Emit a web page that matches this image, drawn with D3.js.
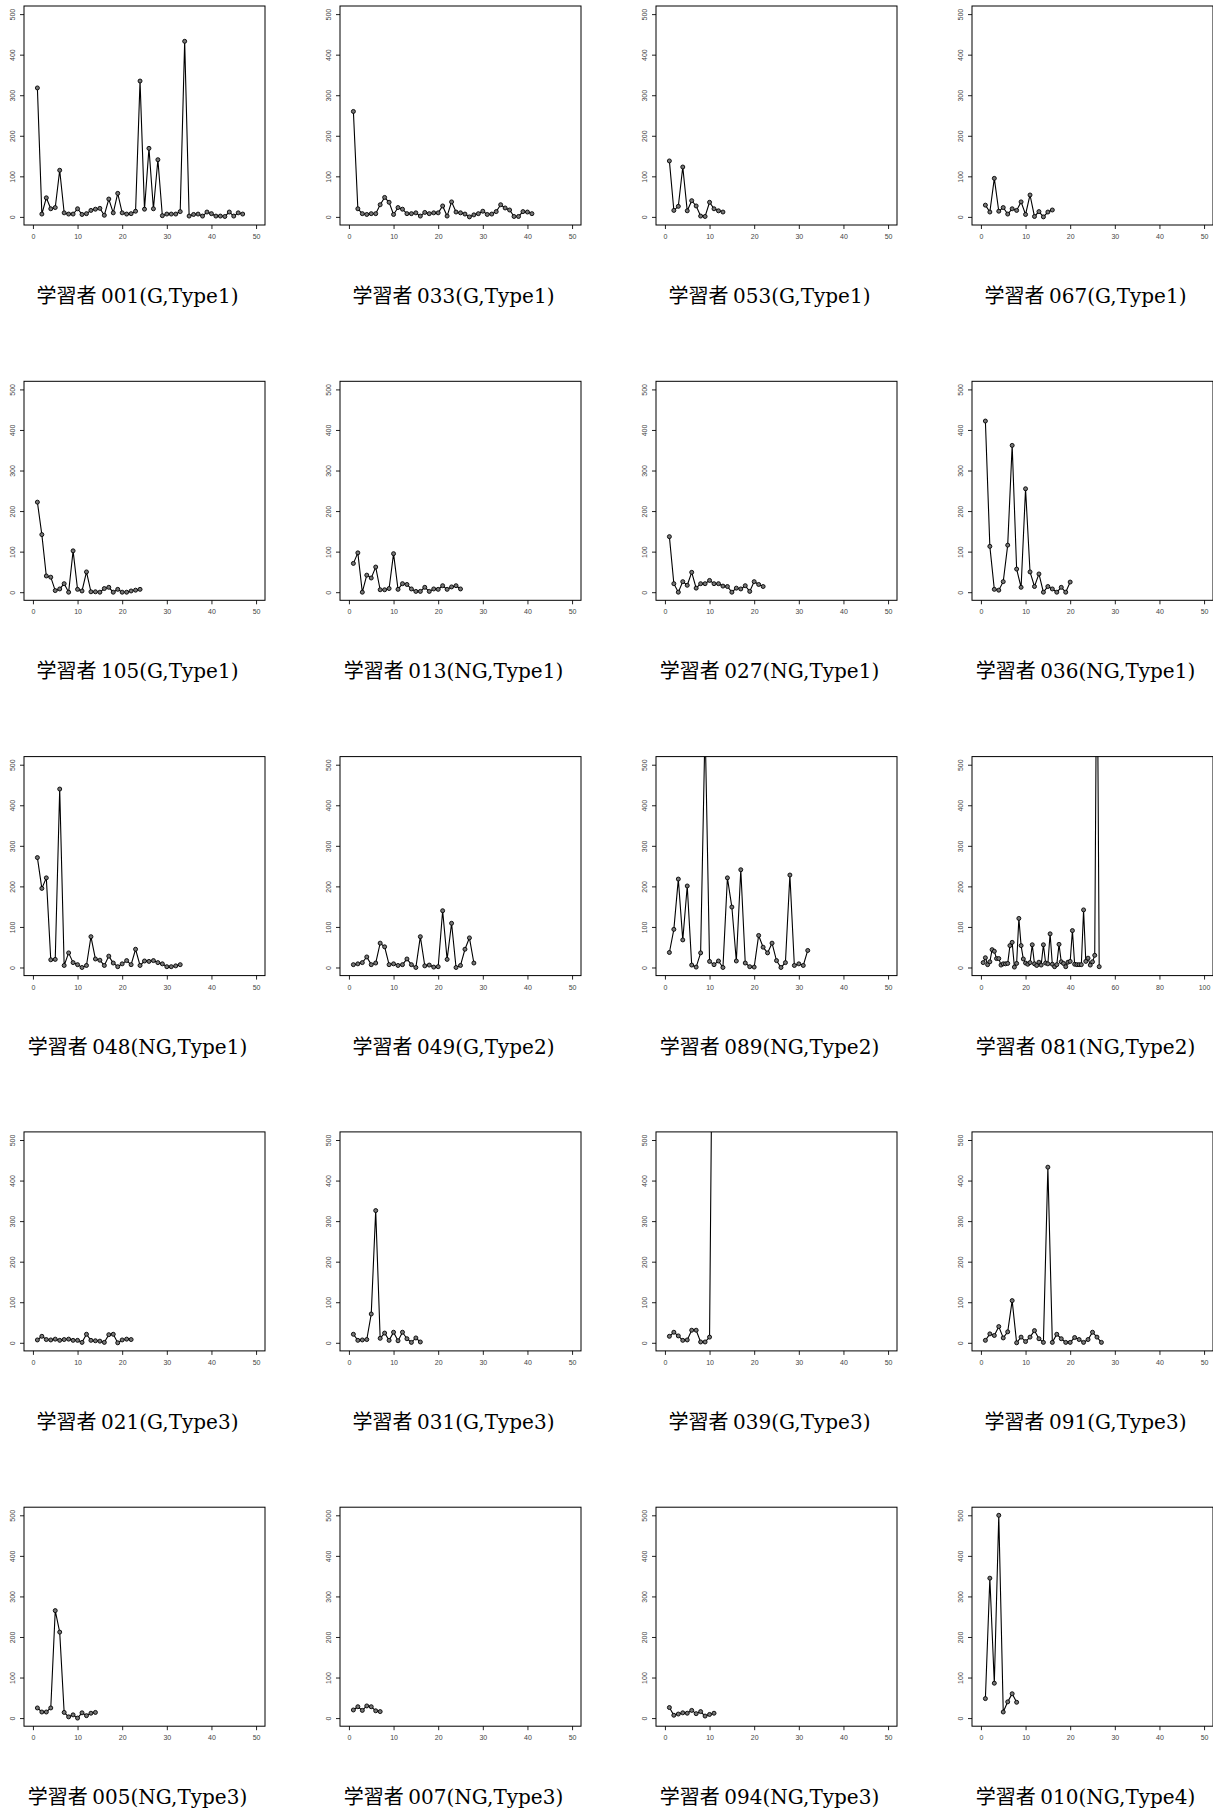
<!DOCTYPE html>
<html>
<head>
<meta charset="utf-8">
<script src="https://cdn.jsdelivr.net/npm/d3@7"></script>
<style>
  body { margin: 0; background: #fff; }
  .tick text { font-family: "Liberation Sans", Arial, sans-serif; font-size: 7px; fill: #444; }
  .tick line { stroke: #222; }
</style>
</head>
<body>
<svg id="chart" width="1213" height="1812"></svg>
<script>
// learner labels, row by row
const titles = [
  ['001', 'G', 'Type1'], ['033', 'G', 'Type1'], ['053', 'G', 'Type1'], ['067', 'G', 'Type1'],
  ['105', 'G', 'Type1'], ['013', 'NG', 'Type1'], ['027', 'NG', 'Type1'], ['036', 'NG', 'Type1'],
  ['048', 'NG', 'Type1'], ['049', 'G', 'Type2'], ['089', 'NG', 'Type2'], ['081', 'NG', 'Type2'],
  ['021', 'G', 'Type3'], ['031', 'G', 'Type3'], ['039', 'G', 'Type3'], ['091', 'G', 'Type3'],
  ['005', 'NG', 'Type3'], ['007', 'NG', 'Type3'], ['094', 'NG', 'Type3'], ['010', 'NG', 'Type4']
];

// values per learner (x = 1..n)
const s001 = [318,7,47,20,23,115,10,7,7,20,6,8,16,19,21,4,44,10,58,10,7,8,14,335,19,169,20,141,3,7,7,7,13,433,2,6,7,2,12,8,2,2,1,12,2,10,7];
const s033 = [260,20,8,6,8,8,30,48,36,6,23,19,8,8,10,2,11,8,10,10,27,2,37,12,10,7,0,5,8,14,6,7,13,30,22,17,1,1,13,12,8];
const s053 = [138,16,26,123,15,40,27,2,1,36,20,15,12];
const s067 = [29,12,95,14,23,7,20,16,37,6,54,1,13,0,12,17];
const s105 = [222,142,40,37,4,8,21,0,102,7,3,50,1,1,0,9,12,0,7,0,0,3,5,7];
const s013 = [71,97,0,42,35,62,6,6,9,95,7,21,19,8,2,2,12,2,8,7,16,7,13,16,8];
const s027 = [137,21,0,26,17,49,10,21,21,29,21,21,15,14,0,10,8,16,2,26,19,14];
const s036 = [422,113,7,5,26,116,362,57,12,255,50,14,45,0,14,8,0,12,0,25];
const s048 = [271,195,221,19,20,440,5,36,12,7,0,5,76,21,18,5,28,11,2,9,17,7,45,5,16,15,17,12,9,2,2,4,7];
const s049 = [7,9,12,26,7,11,60,51,7,9,5,7,21,7,0,76,4,6,1,2,140,20,109,0,5,45,73,11];
const s089 = [37,94,218,68,201,6,1,36,600,15,7,16,0,221,149,16,241,11,2,1,79,50,36,60,17,0,12,228,5,9,5,42];
const s081 = [12,24,7,14,44,40,22,22,6,9,9,10,54,62,1,10,121,54,21,11,8,12,56,9,5,13,6,56,11,9,83,8,2,7,57,14,10,2,13,15,91,8,7,7,7,142,15,23,6,14,30,900,2];
const s021 = [7,16,8,7,9,6,8,9,6,6,1,21,6,5,4,1,20,21,0,7,9,8];
const s031 = [21,6,7,8,71,326,11,24,6,26,5,26,10,1,12,2];
const s039 = [16,26,17,6,7,31,31,2,2,14,1300];
const s091 = [6,22,18,40,12,27,104,0,14,3,14,30,10,1,433,1,21,10,1,1,13,8,1,8,26,14,1];
const s005 = [25,15,15,25,265,212,14,3,8,0,13,6,12,14];
const s007 = [20,28,19,30,28,18,16];
const s094 = [26,7,10,13,12,19,11,16,5,9,12];
const s010 = [48,345,86,500,15,40,60,39];

const series = [s001, s033, s053, s067, s105, s013, s027, s036, s048, s049,
                s089, s081, s021, s031, s039, s091, s005, s007, s094, s010];

const yTicks = [0, 100, 200, 300, 400, 500];
const xTicks50 = [0, 10, 20, 30, 40, 50];
const xTicks100 = [0, 20, 40, 60, 80, 100];

const boxW = 241, boxH = 219;
const colStep = 316, rowStep = 375.3;
const left0 = 24, top0 = 6;

const svg = d3.select('#chart');
svg.append('rect').attr('width', 1213).attr('height', 1812).attr('fill', '#fff');

series.forEach((data, i) => {
  const row = Math.floor(i / 4), col = i % 4;
  const wide = data.length > 50;
  const xMax = wide ? 100 : 50;
  const pad = xMax * 0.04;

  const x = d3.scaleLinear().domain([-pad, xMax + pad]).range([0, boxW]);
  const y = d3.scaleLinear().domain([-20, 520]).range([boxH, 0]);

  const g = svg.append('g')
    .attr('transform', 'translate(' + (left0 + col * colStep) + ',' + (top0 + row * rowStep) + ')');

  g.append('clipPath').attr('id', 'clip' + i)
    .append('rect').attr('width', boxW).attr('height', boxH);

  // y axis
  const ya = g.append('g')
    .call(d3.axisLeft(y).tickValues(yTicks).tickSize(4).tickSizeOuter(0));
  ya.select('.domain').remove();
  ya.selectAll('.tick text')
    .attr('transform', 'rotate(-90)')
    .attr('x', 0).attr('y', -9).attr('dy', 0)
    .attr('text-anchor', 'middle');

  // x axis
  const xa = g.append('g')
    .attr('transform', 'translate(0,' + boxH + ')')
    .call(d3.axisBottom(x).tickValues(wide ? xTicks100 : xTicks50).tickSize(4).tickSizeOuter(0));
  xa.select('.domain').remove();
  xa.selectAll('.tick text').attr('y', 9).attr('dy', '0.71em');

  const line = d3.line()
    .x((d, k) => x(k + 1))
    .y(d => y(d));

  const plot = g.append('g').attr('clip-path', 'url(#clip' + i + ')');
  plot.append('path')
    .datum(data)
    .attr('fill', 'none')
    .attr('stroke', '#000')
    .attr('stroke-width', 1.1)
    .attr('d', line);

  plot.selectAll('.dot')
    .data(data)
    .enter().append('circle')
    .attr('class', 'dot')
    .attr('cx', (d, k) => x(k + 1))
    .attr('cy', d => y(d))
    .attr('r', 2)
    .attr('fill', '#777')
    .attr('stroke', '#000')
    .attr('stroke-width', 0.9);

  g.append('rect')
    .attr('width', boxW).attr('height', boxH)
    .attr('fill', 'none').attr('stroke', '#000').attr('stroke-width', 1);

  const t = titles[i];
  const label = g.append('text')
    .attr('x', boxW / 2 - 7)
    .attr('y', 297)
    .attr('text-anchor', 'middle')
    .attr('font-size', 20)
    .attr('fill', '#000');
  label.append('tspan')
    .attr('font-family', '"Noto Sans CJK JP", sans-serif')
    .text('学習者 ');
  label.append('tspan')
    .attr('font-family', '"DejaVu Serif", "Liberation Serif", serif')
    .text(t[0] + '(' + t[1] + ',' + t[2] + ')');
});
</script>
</body>
</html>
